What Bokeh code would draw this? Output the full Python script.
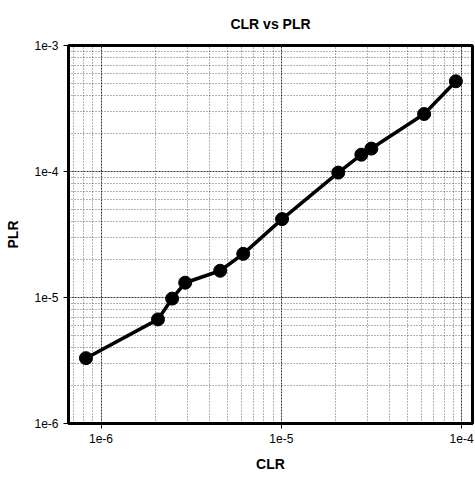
from bokeh.plotting import figure
from bokeh.models import FixedTicker
from bokeh.embed import file_html
from bokeh.resources import INLINE

clr = [8.25e-7, 2.07e-6, 2.48e-6, 2.93e-6, 4.58e-6, 6.15e-6, 1.01e-5,
       2.07e-5, 2.78e-5, 3.16e-5, 6.2e-5, 9.3e-5]
plr = [3.3e-6, 6.7e-6, 9.8e-6, 1.31e-5, 1.63e-5, 2.22e-5, 4.19e-5,
       9.8e-5, 1.36e-4, 1.52e-4, 2.86e-4, 5.2e-4]

x_major = [1e-6, 1e-5, 1e-4]
x_labels = ["1e-6", "1e-5", "1e-4"]
y_major = [1e-6, 1e-5, 1e-4, 1e-3]
y_labels = ["1e-6", "1e-5", "1e-4", "1e-3"]

FONT = "Liberation Sans"

p = figure(width=475, height=480, x_axis_type="log", y_axis_type="log",
           x_range=(6.6e-7, 1.15e-4), y_range=(1e-6, 1e-3),
           output_backend="svg", toolbar_location=None,
           title="CLR vs PLR", x_axis_label="CLR", y_axis_label="PLR",
           min_border_left=68, min_border_right=3, min_border_top=44,
           min_border_bottom=57)

p.title.align = "center"
p.title.text_font = FONT
p.title.text_font_size = "14px"
p.title.text_font_style = "bold"
p.title.text_color = "black"
p.title.standoff = 27

x_minor = [m * d for d in [1e-7, 1e-6, 1e-5, 1e-4] for m in range(2, 10)]
y_minor = [m * d for d in [1e-6, 1e-5, 1e-4] for m in range(2, 10)]

p.xaxis.ticker = FixedTicker(ticks=x_major, minor_ticks=x_minor)
p.yaxis.ticker = FixedTicker(ticks=y_major, minor_ticks=y_minor)
p.xaxis.major_label_overrides = dict(zip(x_major, x_labels))
p.yaxis.major_label_overrides = dict(zip(y_major, y_labels))

for ax in (p.xaxis, p.yaxis):
    ax.axis_line_color = "black"
    ax.axis_line_width = 3
    ax.major_tick_line_color = "black"
    ax.major_tick_out = 5
    ax.major_tick_in = 0
    ax.minor_tick_line_color = None
    ax.major_label_text_font = FONT
    ax.major_label_text_font_size = "12px"
    ax.major_label_text_color = "black"
    ax.axis_label_text_font = FONT
    ax.axis_label_text_font_size = "14px"
    ax.axis_label_text_font_style = "bold"
    ax.axis_label_text_color = "black"

p.xaxis.axis_label_standoff = 10
p.yaxis.axis_label_standoff = 10

p.outline_line_color = "black"
p.outline_line_width = 3
p.outline_line_alpha = 1

for g in (p.xgrid, p.ygrid):
    g.grid_line_color = "black"
    g.grid_line_alpha = 0.8
    g.grid_line_dash = "2 1"
    g.grid_line_width = 1
    g.minor_grid_line_color = "black"
    g.minor_grid_line_alpha = 0.6
    g.minor_grid_line_dash = "1 2"
    g.minor_grid_line_width = 1

p.line(clr, plr, line_color="black", line_width=3.5)
p.scatter(clr, plr, size=13, fill_color="black", line_color="black")

open("out.html", "w").write(file_html(p, INLINE))
